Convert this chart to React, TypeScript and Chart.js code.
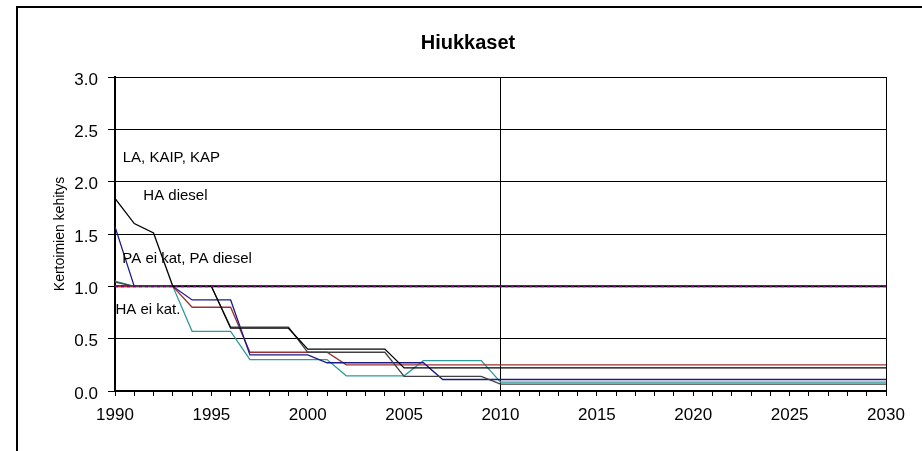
import React, { useEffect, useRef } from "react";
import { Chart, registerables } from "chart.js";

Chart.register(...registerables);

const years = [
  1990, 1991, 1992, 1993, 1994, 1995, 1996, 1997, 1998, 1999,
  2000, 2001, 2002, 2003, 2004, 2005, 2006, 2007, 2008, 2009,
  2010, 2011, 2012, 2013, 2014, 2015, 2016, 2017, 2018, 2019,
  2020, 2021, 2022, 2023, 2024, 2025, 2026, 2027, 2028, 2029, 2030,
];

const laKaipKap = [
  1, 1, 1, 1, 1, 1, 1, 1, 1, 1,
  1, 1, 1, 1, 1, 1, 1, 1, 1, 1,
  1, 1, 1, 1, 1, 1, 1, 1, 1, 1,
  1, 1, 1, 1, 1, 1, 1, 1, 1, 1, 1,
];

const muut = [
  1, 1, 1, 1, 1, 1, 1, 1, 1, 1,
  1, 1, 1, 1, 1, 1, 1, 1, 1, 1,
  1, 1, 1, 1, 1, 1, 1, 1, 1, 1,
  1, 1, 1, 1, 1, 1, 1, 1, 1, 1, 1,
];

const haDiesel = [
  1.84, 1.6, 1.51, 1.0, 1.0, 1.0, 0.6, 0.6, 0.6, 0.6,
  0.4, 0.4, 0.4, 0.4, 0.4, 0.22, 0.22, 0.22, 0.22, 0.22,
  0.22, 0.22, 0.22, 0.22, 0.22, 0.22, 0.22, 0.22, 0.22, 0.22,
  0.22, 0.22, 0.22, 0.22, 0.22, 0.22, 0.22, 0.22, 0.22, 0.22, 0.22,
];

const haEiKat = [
  1.04, 1.0, 1.0, 1.0, 1.0, 1.0, 0.61, 0.61, 0.61, 0.61,
  0.37, 0.37, 0.37, 0.37, 0.37, 0.14, 0.14, 0.14, 0.14, 0.14,
  0.065, 0.065, 0.065, 0.065, 0.065, 0.065, 0.065, 0.065, 0.065, 0.065,
  0.065, 0.065, 0.065, 0.065, 0.065, 0.065, 0.065, 0.065, 0.065, 0.065, 0.065,
];

const paDiesel = [
  1.57, 1.0, 1.0, 1.0, 0.87, 0.87, 0.87, 0.345, 0.345, 0.345,
  0.345, 0.27, 0.27, 0.27, 0.27, 0.27, 0.27, 0.11, 0.11, 0.11,
  0.11, 0.11, 0.11, 0.11, 0.11, 0.11, 0.11, 0.11, 0.11, 0.11,
  0.11, 0.11, 0.11, 0.11, 0.11, 0.11, 0.11, 0.11, 0.11, 0.11, 0.11,
];

const paEiKat = [
  1.0, 1.0, 1.0, 1.0, 0.8, 0.8, 0.8, 0.37, 0.37, 0.37,
  0.37, 0.37, 0.25, 0.25, 0.25, 0.25, 0.25, 0.25, 0.25, 0.25,
  0.25, 0.25, 0.25, 0.25, 0.25, 0.25, 0.25, 0.25, 0.25, 0.25,
  0.25, 0.25, 0.25, 0.25, 0.25, 0.25, 0.25, 0.25, 0.25, 0.25, 0.25,
];

const kaipEiKat = [
  1.05, 1.0, 1.0, 1.0, 0.57, 0.57, 0.57, 0.3, 0.3, 0.3,
  0.3, 0.3, 0.145, 0.145, 0.145, 0.145, 0.29, 0.29, 0.29, 0.29,
  0.085, 0.085, 0.085, 0.085, 0.085, 0.085, 0.085, 0.085, 0.085, 0.085,
  0.085, 0.085, 0.085, 0.085, 0.085, 0.085, 0.085, 0.085, 0.085, 0.085, 0.085,
];

const annotationTexts = ["LA, KAIP, KAP", "HA diesel", "PA ei kat, PA diesel", "HA ei kat."];
const annotationYears = [1990.4, 1991.47, 1990.38, 1990.02];
const annotationValues = [2.226, 1.863, 1.266, 0.774];

const FONT = "'Liberation Sans', Arial, sans-serif";

const toPoints = (vals: number[]) => years.map((y, i) => ({ x: y, y: vals[i] }));

const annotationPlugin = {
  id: "inlineLabels",
  afterDatasetsDraw(chart: any) {
    const { ctx, scales } = chart;
    ctx.save();
    ctx.font = `15px ${FONT}`;
    ctx.fillStyle = "#000";
    ctx.textAlign = "left";
    ctx.textBaseline = "middle";
    annotationTexts.forEach((t, i) => {
      ctx.fillText(
        t,
        scales.x.getPixelForValue(annotationYears[i]),
        scales.y.getPixelForValue(annotationValues[i])
      );
    });
    ctx.restore();
  },
};

export default function App() {
  const ref = useRef<HTMLCanvasElement | null>(null);

  useEffect(() => {
    document.body.style.margin = "0";
    if (!ref.current) return;
    const line = (label: string, vals: number[], color: string, width: number, dash: number[] = []) => ({
      label,
      data: toPoints(vals),
      borderColor: color,
      backgroundColor: color,
      borderWidth: width,
      borderDash: dash,
      pointRadius: 0,
      fill: false,
      tension: 0,
    });
    const chart = new Chart(ref.current, {
      type: "line",
      data: {
        datasets: [
          line("Muut", muut, "#800080", 2, [3, 3]),
          line("HA diesel", haDiesel, "#000000", 1.3),
          line("HA ei kat.", haEiKat, "#404040", 1.3),
          line("PA diesel", paDiesel, "#1a1a8c", 1.3),
          line("PA ei kat", paEiKat, "#a03030", 1.3),
          line("KAIP ei kat", kaipEiKat, "#2e9a9a", 1.3),
          line("LA, KAIP, KAP", laKaipKap, "#000000", 2),
        ],
      },
      options: {
        responsive: false,
        animation: false,
        layout: { padding: { left: 50, right: 36, top: 0, bottom: 0 } },
        plugins: {
          legend: { display: false },
          tooltip: { enabled: false },
          title: {
            display: true,
            text: "Hiukkaset",
            color: "#000",
            font: { family: FONT, size: 20, weight: "bold" },
            padding: { top: 31, bottom: 22 },
          },
        },
        scales: {
          x: {
            type: "linear",
            min: 1990,
            max: 2030,
            ticks: {
              stepSize: 1,
              autoSkip: false,
              maxRotation: 0,
              color: "#000",
              padding: 9,
              font: { family: FONT, size: 17 },
              callback: (v: any) => (Number(v) % 5 === 0 ? String(v) : ""),
            },
            grid: {
              color: (c: any) =>
                c.tick && (c.tick.value === 2010 || c.tick.value === 2030) ? "#000" : "rgba(0,0,0,0)",
              tickColor: "#000",
              tickLength: 5,
              lineWidth: 1,
            },
            border: { color: "#000", width: 2 },
            afterFit: (s: any) => {
              s.height = 60;
            },
          },
          y: {
            min: 0,
            max: 3,
            ticks: {
              stepSize: 0.5,
              color: "#000",
              padding: 10,
              labelOffset: 3,
              font: { family: FONT, size: 17 },
              callback: (v: any) => Number(v).toFixed(1),
            },
            grid: { color: "#000", tickColor: "#000", tickLength: 7, lineWidth: 1 },
            border: { color: "#000", width: 2 },
            title: {
              display: true,
              text: "Kertoimien kehitys",
              color: "#000",
              font: { family: FONT, size: 14 },
              padding: { top: 2, bottom: 0 },
            },
            afterFit: (s: any) => {
              s.width = 65;
            },
          },
        },
      } as any,
      plugins: [annotationPlugin],
    });
    return () => chart.destroy();
  }, []);

  return (
    <div style={{ position: "relative", width: 922, height: 451, overflow: "hidden", background: "#fff" }}>
      <div
        style={{
          position: "absolute",
          left: 16,
          top: 6,
          width: 1000,
          height: 1000,
          borderLeft: "2px solid #000",
          borderTop: "2px solid #000",
        }}
      />
      <canvas ref={ref} width={922} height={451} style={{ position: "absolute", left: 0, top: 0, display: "block" }} />
    </div>
  );
}
